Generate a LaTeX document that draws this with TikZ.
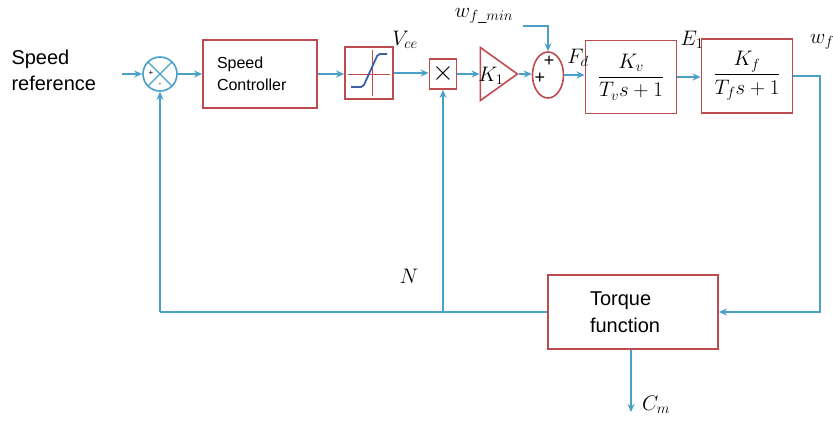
\RequirePackage{fix-cm}
\documentclass[tikz,border=0pt]{standalone}
\usepackage{amsmath}
\usepackage[no-math]{fontspec}
\setmainfont{Liberation Sans}
\usetikzlibrary{arrows.meta, positioning, shapes.geometric}
\definecolor{linkblue}{RGB}{75,160,200}
\definecolor{boxred}{RGB}{190,75,80}
\definecolor{curveblue}{RGB}{60,95,165}

\begin{document}
\begin{tikzpicture}[x=1pt, y=-1pt,
    blockbox/.style={draw=boxred, line width=1.8pt, fill=white, inner sep=0pt},
    wire/.style={draw=linkblue, line width=1.8pt},
    link/.style={wire, -{Stealth[length=8pt, width=7pt]}},
    sig/.style={font=\fontsize{21}{24}\selectfont}]
  \useasboundingbox (0,0) rectangle (833,428);

  % input and comparator
  \node[anchor=west, align=left, font=\fontsize{20}{26}\selectfont] (ref) at (8,70) {Speed\\reference};
  \coordinate (refin) at (122,74);
  \node[circle, draw=linkblue, line width=1.6pt, minimum size=34pt, inner sep=0pt] (cmp) at (160,74) {};
  \draw[linkblue, line width=1.2pt] (cmp.north west) -- (cmp.south east)
    (cmp.north east) -- (cmp.south west);
  \node[font=\footnotesize] at (151,73) {+};
  \node[font=\footnotesize] at (160,85) {-};

  % forward path
  \node[blockbox, minimum height=68pt, text width=86pt, inner xsep=14pt, align=left,
    font=\fontsize{16}{22}\selectfont] (ctrl) at (260,74) {Speed\\Controller};
  \node[blockbox, minimum width=48pt, minimum height=52pt] (sat) at (369,73) {};
  \begin{scope}[shift={(sat.center)}]
    \draw[boxred, line width=0.8pt] (-21,1) -- (21,1) (3,-23) -- (3,23);
    \draw[curveblue, line width=1.8pt, rounded corners=2pt]
      (-18,14) -- (-6,14) -- (9,-19) -- (18,-19);
  \end{scope}
  \node[blockbox, minimum width=27pt, minimum height=30pt, font=\fontsize{28}{28}\selectfont] (mul) at (443,74) {$\times$};
  \node[isosceles triangle, isosceles triangle stretches, draw=boxred, line width=1.6pt,
    minimum width=53pt, minimum height=37pt, inner sep=0pt] (gain) at (494,74) {};
  \node[sig] at (491,76) {$K_1$};
  \node[ellipse, draw=boxred, line width=1.6pt, minimum width=31pt, minimum height=46pt, inner sep=0pt] (sum) at (548,75) {};
  \node[font=\fontsize{18}{18}\selectfont] at (549,61) {+};
  \node[font=\fontsize{18}{18}\selectfont] at (540,78) {+};
  \node[sig] (wmin) at (484,16) {$w_{f\_min}$};
  \coordinate (wminin) at (523,26);
  \node[blockbox, minimum width=91pt, minimum height=73pt, sig] (plantv) at (631,77) {$\dfrac{K_v}{T_v s+1}$};
  \node[blockbox, minimum width=91pt, minimum height=74pt, sig] (plantf) at (747,76) {$\dfrac{K_f}{T_f s+1}$};

  % signal labels
  \node[sig] at (405,40) {$V_{ce}$};
  \node[sig] at (578,58) {$F_d$};
  \node[sig] at (692,40) {$E_1$};
  \node[sig] at (822,42) {$w_f$};
  \node[sig] at (409,276) {$N$};

  % feedback path
  \node[blockbox, minimum height=74pt, text width=86pt, inner xsep=42pt, align=left,
    font=\fontsize{20}{27}\selectfont] (torque) at (633,312) {Torque\\function};
  \coordinate (rightc) at (820,312);
  \coordinate (fbl) at (160,312);
  \coordinate (fbm) at (443,312);
  \coordinate (cmout) at (631,412);
  \node[sig] at (656,405) {$C_m$};

  % connectors
  \draw[link] (refin) -- (cmp.west);
  \draw[link] (cmp.east) -- (cmp.east -| ctrl.west);
  \draw[link] (ctrl.east) -- (ctrl.east -| sat.west);
  \draw[link] (sat.east) -- (sat.east -| mul.west);
  \draw[link] (mul.east) -- (mul.east -| gain.west);
  \draw[link] (gain.apex) -- (gain.apex -| sum.west);
  \draw[link] (wminin) -| (sum.north);
  \draw[link] (sum.east) -- (sum.east -| plantv.west);
  \draw[link] (plantv.east) -- (plantv.east -| plantf.west);
  \draw[link] (plantf.east) -| (rightc) -- (torque.east);
  \draw[wire] (torque.west) -- (fbl);
  \draw[link] (fbl) -- (cmp.south);
  \draw[link] (fbm) -- (mul.south);
  \draw[link] (torque.south -| cmout) -- (cmout);
\end{tikzpicture}
\end{document}
